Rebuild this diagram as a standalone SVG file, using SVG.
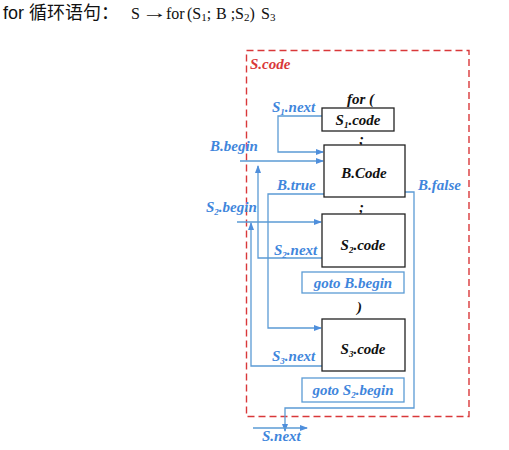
<svg xmlns="http://www.w3.org/2000/svg" width="509" height="450" viewBox="0 0 509 450">
<defs>
<marker id="ah" markerWidth="8" markerHeight="6" refX="7" refY="3" orient="auto" markerUnits="userSpaceOnUse">
<path d="M0,0 L8,3 L0,6 Z" fill="#4f8fdc"/>
</marker>
<style>
.lbl{font-family:"Liberation Serif",serif;font-weight:bold;font-style:italic;font-size:15px;fill:#3f86dc}
.blk{font-family:"Liberation Serif",serif;font-weight:bold;font-style:italic;font-size:15px;fill:#111}
.box{fill:#fff;stroke:#222;stroke-width:1.3}
.gbox{fill:#fff;stroke:#5b9bd5;stroke-width:1.3}
.ln{fill:none;stroke:#5b9bd5;stroke-width:1.3}
.sub{font-size:9px}
.ttl{font-family:"Liberation Serif",serif;font-size:16px;fill:#111}
</style>
</defs>
<rect width="509" height="450" fill="#fff"/>
<text x="3" y="19" font-family="'Liberation Sans','Noto Sans CJK SC',sans-serif" font-size="18" fill="#111">for 循环语句：</text>
<text class="ttl" x="131" y="19">S</text>
<text class="ttl" transform="translate(142,18) scale(1.6,1)" x="0" y="0">→</text>
<text class="ttl" x="166" y="19">for</text>
<text class="ttl" x="187" y="19">(S<tspan font-size="11" dy="2">1</tspan><tspan dy="-2">;</tspan><tspan x="216">B ;S</tspan><tspan font-size="11" dy="2">2</tspan><tspan dy="-2">)</tspan><tspan x="261">S</tspan><tspan font-size="11" dy="2">3</tspan></text>

<g id="scode">
<rect x="246.5" y="50.5" width="222.5" height="366" fill="none" stroke="#d9383a" stroke-width="1.4" stroke-dasharray="7,4"/>
<text x="250" y="69" font-family="'Liberation Serif',serif" font-weight="bold" font-style="italic" font-size="15" fill="#d9383a">S.code</text>
</g>

<g id="connectors">
<path class="ln" d="M322,116 H278 V152 H323" marker-end="url(#ah)"/>
<path class="ln" d="M240,161 H323" marker-end="url(#ah)"/>
<path class="ln" d="M322,258 H258 V166" marker-end="url(#ah)"/>
<path class="ln" d="M324,194 H268 V328 H321" marker-end="url(#ah)"/>
<path class="ln" d="M237,222 H321" marker-end="url(#ah)"/>
<path class="ln" d="M322,366 H251 V223" marker-end="url(#ah)"/>
<path class="ln" d="M405,192 H414 V408 H285 V431" marker-end="url(#ah)"/>
<path class="ln" d="M253,428 H307" marker-end="url(#ah)"/>
</g>

<g id="for">
<text class="blk" x="347" y="104">for (</text>
</g>
<g id="s1code">
<rect class="box" x="322" y="108" width="72" height="23"/>
<text class="blk" x="358" y="125" text-anchor="middle">S<tspan class="sub" dy="3">1</tspan><tspan dy="-3">.code</tspan></text>
</g>
<g id="semi1"><text class="blk" x="359" y="144">;</text></g>
<g id="bcode">
<rect class="box" x="324" y="145" width="81" height="52"/>
<text class="blk" x="364" y="178" text-anchor="middle">B.Code</text>
</g>
<g id="semi2"><text class="blk" x="359" y="212">;</text></g>
<g id="s2code">
<rect class="box" x="322" y="214" width="83" height="53"/>
<text class="blk" x="363" y="250" text-anchor="middle">S<tspan class="sub" dy="3">2</tspan><tspan dy="-3">.code</tspan></text>
</g>
<g id="gotob">
<rect class="gbox" x="302" y="272" width="102" height="21"/>
<text class="lbl" x="353" y="288" text-anchor="middle">goto B.begin</text>
</g>
<g id="paren"><text class="blk" x="357" y="312">)</text></g>
<g id="s3code">
<rect class="box" x="322" y="319" width="83" height="52"/>
<text class="blk" x="363" y="354" text-anchor="middle">S<tspan class="sub" dy="3">3</tspan><tspan dy="-3">.code</tspan></text>
</g>
<g id="gotos2">
<rect class="gbox" x="302" y="378" width="102" height="24"/>
<text class="lbl" x="353" y="395" text-anchor="middle">goto S<tspan class="sub" dy="3">2</tspan><tspan dy="-3">.begin</tspan></text>
</g>

<g id="labels">
<text class="lbl" x="272" y="112">S<tspan class="sub" dy="3">1</tspan><tspan dy="-3">.next</tspan></text>
<text class="lbl" x="210" y="151">B.begin</text>
<text class="lbl" x="277" y="190">B.true</text>
<text class="lbl" x="418" y="190">B.false</text>
<text class="lbl" x="206" y="212">S<tspan class="sub" dy="3">2</tspan><tspan dy="-3">.begin</tspan></text>
<text class="lbl" x="274" y="255">S<tspan class="sub" dy="3">2</tspan><tspan dy="-3">.next</tspan></text>
<text class="lbl" x="272" y="361">S<tspan class="sub" dy="3">3</tspan><tspan dy="-3">.next</tspan></text>
<text class="lbl" x="262" y="441">S.next</text>
</g>
</svg>
